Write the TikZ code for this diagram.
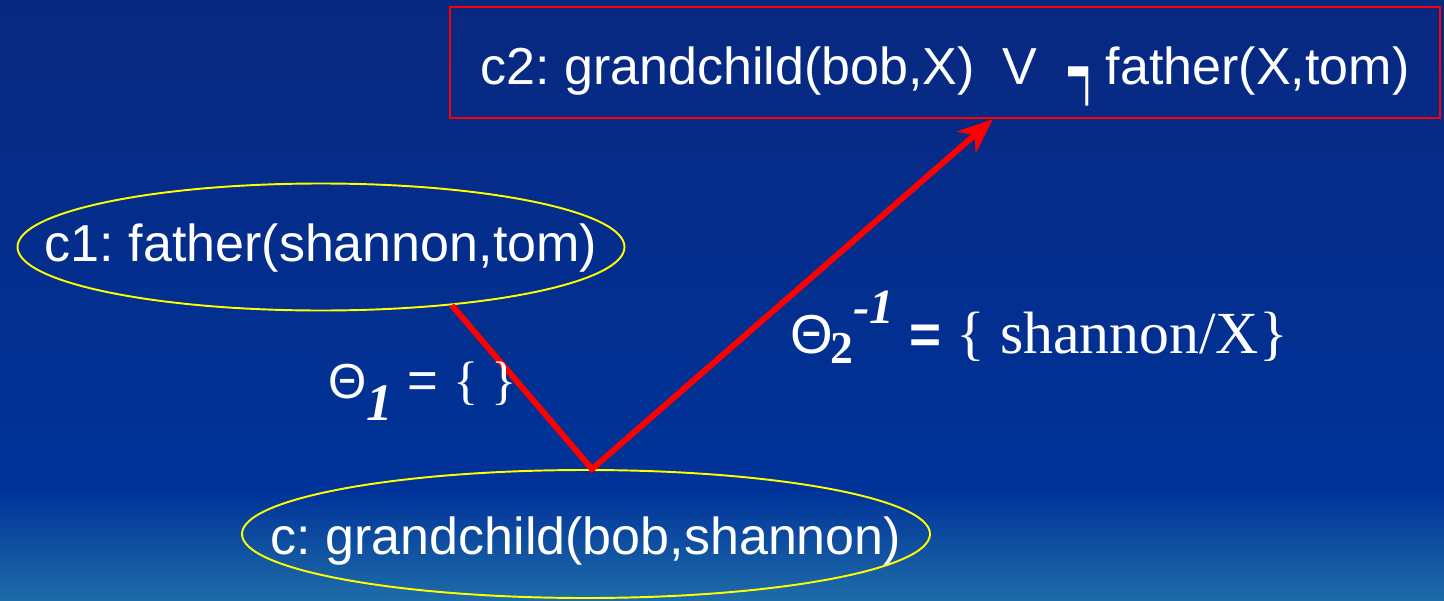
\documentclass[tikz,border=0pt]{standalone}
\usepackage{fontspec}
\setmainfont{Liberation Sans}
\newfontfamily\timesfont{Liberation Serif}
\usepackage{graphicx}
\usetikzlibrary{arrows.meta, positioning, calc, shapes.geometric}

\definecolor{bgtop}{RGB}{8,40,128}
\definecolor{bgmid}{RGB}{0,51,153}
\definecolor{bgbot}{RGB}{30,108,168}
\definecolor{clauseyellow}{RGB}{255,255,0}
\definecolor{linkred}{RGB}{255,0,0}

\tikzset{
  clause/.style={ellipse, draw=clauseyellow, line width=0.55pt, inner sep=0pt, text=white, font=\fontsize{14.8}{18}\selectfont},
  goal/.style={rectangle, draw=linkred, line width=0.6pt, inner sep=0pt, text=white, font=\fontsize{14.8}{18}\selectfont},
  link/.style={draw=linkred, line width=1.7pt},
  subst/.style={text=white, anchor=base west, inner sep=0pt}
}
\frenchspacing

\begin{document}
\begin{tikzpicture}[x=1cm,y=1cm]

% Background
\shade[top color=bgtop, bottom color=bgmid] (0,1.10) rectangle (14.44,6);
\shade[top color=bgmid, bottom color=bgbot] (0,0) rectangle (14.44,1.10);
\useasboundingbox (0,0) rectangle (14.44,6);

% Clauses
\node[goal, minimum width=9.9cm, minimum height=1.11cm, text height=0.45cm, text depth=0pt] (c2) at (9.45,5.375)
  {\makebox[0pt]{c2: grandchild(bob,X)\hspace{0.28cm}V\hspace{0.29cm}\raisebox{-0.34cm}{\scalebox{0.8}[2.7]{¬}}\hspace{0.15cm}father(X,tom)}};
\node[clause, minimum width=6.07cm, minimum height=1.27cm, text height=0.28cm, text depth=0pt] (c1) at (3.21,3.53)
  {\makebox[0pt]{c1: father(shannon,tom)}};
\node[clause, minimum width=6.88cm, minimum height=1.28cm, text height=0.40cm, text depth=0pt] (c) at (5.86,0.66)
  {\makebox[0pt]{c: grandchild(bob,shannon)}};

% Resolution steps
\draw[link, -{Stealth[length=10pt, width=8pt, inset=3pt]}] (c1.-24) -- ($(c.north)+(0.06,0)$) -- ($(c2.south)+(0.48,0)$);

% Substitutions
\node[subst] (th1) at (3.28,2.02)
  {\fontsize{14}{16}\selectfont Θ\raisebox{-0.22cm}{\timesfont\bfseries\itshape\fontsize{15}{17}\selectfont 1}\fontsize{15}{18}\selectfont{} = \timesfont\{ \}};
\node[subst] (th2) at (7.90,2.47)
  {\fontsize{15.6}{18}\selectfont Θ\hspace{-0.03cm}\raisebox{-0.10cm}{\timesfont\bfseries\fontsize{13}{15}\selectfont 2}\raisebox{0.30cm}{\timesfont\bfseries\itshape\fontsize{14}{17}\selectfont -1} {\bfseries =} \timesfont\fontsize{17}{20}\selectfont\{ shannon/X\}};

\end{tikzpicture}
\end{document}
